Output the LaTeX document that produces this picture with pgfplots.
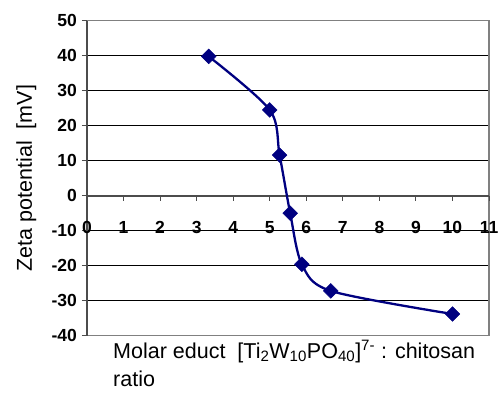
\documentclass[border=0pt]{standalone}
\usepackage{fontspec}
\setmainfont{Liberation Sans}
\usepackage{pgfplots}
\pgfplotsset{compat=1.18}
\definecolor{navyblue}{RGB}{0,0,128}
\begin{document}
\begin{tikzpicture}
\useasboundingbox (0,0) rectangle (499bp,396bp);
\begin{axis}[
  at={(87bp,60.3bp)}, anchor=south west,
  width=402bp, height=315bp, scale only axis,
  xmin=0, xmax=11, ymin=-40, ymax=50,
  axis line style={draw=black!50, line width=1.4bp},
  xtick=\empty, ytick={-30,-20,...,40}, yticklabels={},
  ymajorgrids, major grid style={black, line width=0.9bp},
  major tick length=0pt,
]
\end{axis}
\begin{axis}[
  at={(87bp,60.3bp)}, anchor=south west,
  width=402bp, height=315bp, scale only axis,
  xmin=0, xmax=11, ymin=-40, ymax=50,
  axis x line*=middle, axis y line*=left,
  hide obscured x ticks=false, hide obscured y ticks=false,
  axis line style={draw=black!70, line width=1.7bp},
  xtick={0,...,11}, ytick={-40,-30,...,50},
  tick align=outside, major tick length=5bp,
  tick style={black!70, line width=1bp},
  ticklabel style={font=\fontsize{17.5bp}{20bp}\selectfont\bfseries, inner sep=0pt},
  /pgf/number format/assume math mode=true,
  xticklabel style={anchor=north, text height=12.5bp, text depth=0pt, yshift=-20bp},
  yticklabel style={anchor=east, xshift=-5bp},
  ylabel={Zeta potential\ \ [mV]},
  ylabel style={at={(axis description cs:-0.1256,0.5)}, anchor=south, rotate=0, inner sep=0pt,
    font=\fontsize{21.5bp}{26bp}\selectfont},
  xlabel={Molar educt\ \ [Ti\textsubscript{2}W\textsubscript{10}PO\textsubscript{40}]\textsuperscript{7-} : chitosan\\[2bp]ratio},
  xlabel style={at={(axis description cs:0.0647,-0.0137)}, anchor=north west, align=left, inner sep=0pt,
    font=\fontsize{21.5bp}{26bp}\selectfont},
]
\addplot[navyblue, line width=2.3bp, smooth, tension=0.5,
  mark=square*, mark size=5.2bp, mark options={rotate=45, fill=navyblue, draw=navyblue, line width=0.5bp}]
  coordinates {(3.33,39.8) (5.0,24.5) (5.27,11.6) (5.56,-5.0) (5.88,-19.6) (6.67,-27.2) (10.0,-33.8)};
\end{axis}
\end{tikzpicture}
\end{document}
